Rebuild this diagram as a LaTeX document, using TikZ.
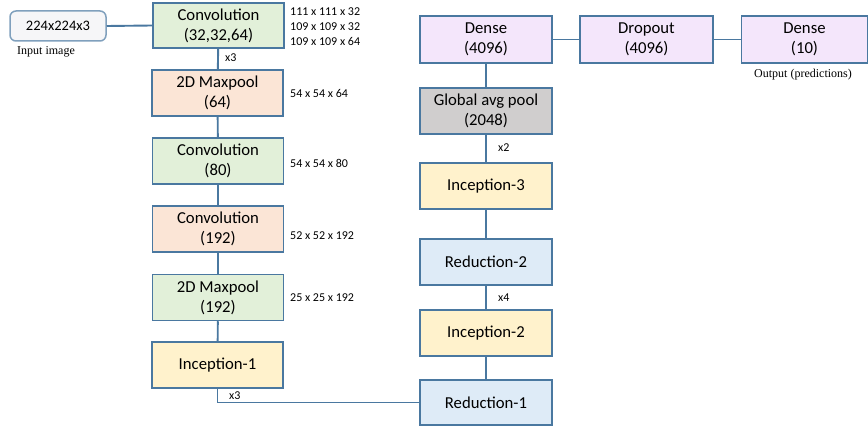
\documentclass[tikz,border=0pt]{standalone}
\usepackage{fontspec}
\setmainfont{Carlito}
\newfontfamily\serifx{Liberation Serif}
\definecolor{bcol}{HTML}{4A78A0}
\definecolor{cgreen}{HTML}{E2F0D9}
\definecolor{corange}{HTML}{FBE5D6}
\definecolor{cyellow}{HTML}{FFF2CC}
\definecolor{cblue}{HTML}{DEEBF7}
\definecolor{cpurple}{HTML}{F4E6FB}
\definecolor{cgray}{HTML}{D0CECE}
\definecolor{cinput}{HTML}{F6F6F8}
\begin{document}
\begin{tikzpicture}[x=1pt,y=-1pt,
  box/.style={draw=bcol, line width=1.5pt, minimum width=131pt, minimum height=46pt, align=center, inner sep=0pt, font=\fontsize{16.7}{20}\selectfont},
  conn/.style={draw=bcol, line width=1.9pt},
  dim/.style={anchor=west, inner sep=0pt, font=\fontsize{12}{15}\selectfont, align=left},
  note/.style={inner sep=0pt, font=\serifx\fontsize{12}{13}\selectfont}]
\useasboundingbox (0,0) rectangle (868,427);
% left column
\node[box, fill=cinput, minimum width=96pt, minimum height=30pt, rounded corners=6pt, draw=bcol!70, font=\fontsize{14.5}{17}\selectfont] (inp) at (58,26) {224x224x3};
\node[note] (inpl) at (46,52) {Input image};
\node[box, fill=cgreen, minimum height=45pt] (c1) at (218.5,25.5) {Convolution\\(32,32,64)};
\node[box, fill=corange] (m1) at (217.5,93) {2D Maxpool\\(64)};
\node[box, fill=cgreen] (c2) at (218,161) {Convolution\\(80)};
\node[box, fill=corange] (c3) at (218,229) {Convolution\\(192)};
\node[box, fill=cgreen] (m2) at (218,297.5) {2D Maxpool\\(192)};
\node[box, fill=cyellow] (i1) at (217.5,365) {Inception-1};
% right column
\node[box, fill=cblue, minimum width=132pt, minimum height=45pt] (r1) at (486,402.5) {Reduction-1};
\node[box, fill=cyellow, minimum width=132pt] (i2) at (486,333) {Inception-2};
\node[box, fill=cblue, minimum width=132pt] (r2) at (486,262) {Reduction-2};
\node[box, fill=cyellow, minimum width=132pt] (i3) at (486,186) {Inception-3};
\node[box, fill=cgray, minimum width=132pt] (gp) at (486,111) {Global avg pool\\(2048)};
\node[box, fill=cpurple, minimum width=132pt, minimum height=47pt] (d1) at (486,39.5) {Dense\\(4096)};
\node[box, fill=cpurple, minimum width=133pt, minimum height=47pt] (dr) at (646.5,39.5) {Dropout\\(4096)};
\node[box, fill=cpurple, minimum width=126pt, minimum height=47pt] (d2) at (804.5,39.5) {Dense\\(10)};
\node[note] (outl) at (803,75) {Output (predictions)};
% dimension labels
\node[dim] (l1) at (290,27) {111 x 111 x 32\\109 x 109 x 32\\109 x 109 x 64};
\node[dim] (l2) at (290,93) {54 x 54 x 64};
\node[dim] (l3) at (290,163) {54 x 54 x 80};
\node[dim] (l4) at (290,236) {52 x 52 x 192};
\node[dim] (l5) at (290,298) {25 x 25 x 192};
% repeat labels
\node[dim] (x3a) at (225,58) {x3};
\node[dim] (x2) at (498,148) {x2};
\node[dim] (x4) at (498,298) {x4};
\node[dim] (x3b) at (229,396) {x3};
% connectors
\draw[conn] (inp.east) -- (c1.west);
\draw[conn] (c1) -- (m1);
\draw[conn] (m1) -- (c2);
\draw[conn] (c2) -- (c3);
\draw[conn] (c3) -- (m2);
\draw[conn] (m2) -- (i1);
\draw[conn] (i1.south) |- (r1.west);
\draw[conn] (r1) -- (i2);
\draw[conn] (i2) -- (r2);
\draw[conn] (r2) -- (i3);
\draw[conn] (i3) -- (gp);
\draw[conn] (gp) -- (d1);
\draw[conn] (d1) -- (dr);
\draw[conn] (dr) -- (d2);
\end{tikzpicture}
\end{document}
